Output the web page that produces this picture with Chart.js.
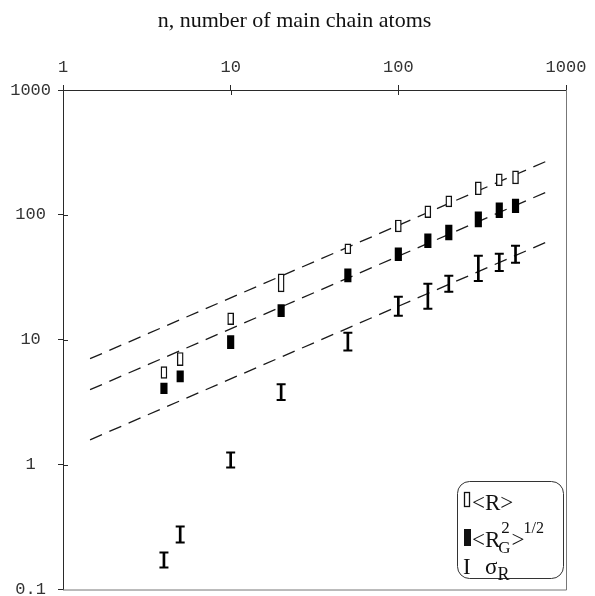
<!DOCTYPE html>
<html><head><meta charset="utf-8">
<script src="https://cdn.jsdelivr.net/npm/chart.js@4/dist/chart.umd.min.js"></script>
<style>html,body{margin:0;padding:0;background:#fff;}</style>
</head><body>
<canvas id="c" width="595" height="596"></canvas>
<script>
// ---- data ----
const nValues   = [4, 5, 10, 20, 50, 100, 150, 200, 300, 400, 500];
const rLow      = [4.9, 6.2, 13.2, 24.2, 48.8, 73, 95, 116, 145, 171, 177];
const rHigh     = [6.1, 7.9, 16.4, 33.7, 58.6, 91, 118, 142, 184, 213, 225];
const rgLow     = [3.7, 4.6, 8.5, 15.3, 29.1, 42.9, 54.5, 63, 80, 95, 104];
const rgHigh    = [4.5, 5.65, 10.8, 19.1, 37, 54.5, 70.5, 83, 106, 125, 134];
const sigmaLow  = [0.15, 0.238, 0.95, 3.3, 8.2, 15.6, 17.7, 24.2, 29.6, 35.6, 41.3];
const sigmaHigh = [0.198, 0.32, 1.25, 4.4, 11.4, 22.1, 28.1, 32.5, 47, 48.8, 56.5];
const fitN      = [1.45, 770];
const fitR      = [7.05, 270];
const fitRg     = [3.98, 153];
const fitSigma  = [1.58, 60.8];
const xTicks    = [1, 10, 100, 1000];
const yTicks    = [0.1, 1, 10, 100, 1000];

const AX = '#2a2a2a';
const tickFont = {family: 'Liberation Mono', size: 17};

function barData(lo, hi) { return nValues.map((n, i) => ({x: n, y: [lo[i], hi[i]]})); }
function fitData(v) { return fitN.map((n, i) => ({x: n, y: v[i]})); }

const capPoints = [];
nValues.forEach((n, i) => { capPoints.push({x: n, y: sigmaLow[i]}); capPoints.push({x: n, y: sigmaHigh[i]}); });

const fitStyle = {type: 'line', borderColor: '#1a1a1a', borderWidth: 1.3, borderDash: [13, 8],
  pointRadius: 0, fill: false, order: 10, tension: 0};

const extras = {
  id: 'extras',
  afterDatasetsDraw(chart) {
    const {ctx, chartArea: a, scales: {x, y}} = chart;
    ctx.save();
    // inner half of crossing ticks
    ctx.strokeStyle = AX; ctx.lineWidth = 1;
    ctx.beginPath();
    xTicks.slice(1, -1).forEach(v => { const px = Math.round(x.getPixelForValue(v)) + 0.5; ctx.moveTo(px, a.top); ctx.lineTo(px, a.top + 5); });
    yTicks.slice(1, -1).forEach(v => { const py = Math.round(y.getPixelForValue(v)) + 0.5; ctx.moveTo(a.left, py); ctx.lineTo(a.left + 5, py); });
    ctx.stroke();
    // right and bottom frame
    ctx.strokeStyle = '#777';
    ctx.beginPath();
    ctx.moveTo(a.right + 0.5, a.top); ctx.lineTo(a.right + 0.5, a.bottom + 0.5);
    ctx.lineTo(a.left, a.bottom + 0.5);
    ctx.stroke();
    // legend
    ctx.strokeStyle = '#333'; ctx.lineWidth = 1;
    ctx.beginPath();
    ctx.roundRect(457.5, 481.5, 106, 97, 12);
    ctx.fillStyle = '#fff'; ctx.fill(); ctx.stroke();
    ctx.textBaseline = 'alphabetic'; ctx.textAlign = 'left';
    const tx = 472;
    // row 1
    ctx.fillStyle = '#fff'; ctx.fillRect(464, 492, 6, 15);
    ctx.strokeStyle = '#111'; ctx.lineWidth = 1.3;
    ctx.strokeRect(464.5, 492.5, 5, 14);
    ctx.fillStyle = '#111';
    ctx.font = '23px "Liberation Serif"';
    ctx.fillText('<R>', tx, 510);
    // row 2
    ctx.fillRect(464, 529, 7, 17);
    ctx.font = '23px "Liberation Serif"';
    ctx.fillText('<R', tx, 547);
    const w = ctx.measureText('<R').width;
    ctx.font = '17px "Liberation Serif"';
    ctx.fillText('G', tx + w - 2, 553);
    ctx.fillText('2', tx + w + 1, 533);
    const gw = ctx.measureText('G').width;
    ctx.font = '23px "Liberation Serif"';
    ctx.fillText('>', tx + w + gw - 1, 547);
    const gtw = ctx.measureText('>').width;
    ctx.font = '16px "Liberation Serif"';
    ctx.fillText('1/2', tx + w + gw + gtw - 2, 533);
    // row 3
    ctx.font = '23px "Liberation Serif"';
    ctx.fillText('I', 463, 574);
    ctx.fillText('σ', 485, 574);
    const sw = ctx.measureText('σ').width;
    ctx.font = '18px "Liberation Serif"';
    ctx.fillText('R', 485 + sw, 580);
    ctx.restore();
  }
};

new Chart(document.getElementById('c'), {
  type: 'bar',
  data: {
    datasets: [
      {type: 'bar', label: '<R>', data: barData(rLow, rHigh), backgroundColor: '#fff', borderColor: '#111',
        borderWidth: 1.4, borderSkipped: false, barThickness: 6, maxBarThickness: 6, grouped: false, order: 1},
      {type: 'bar', label: '<Rg²>^1/2', data: barData(rgLow, rgHigh), backgroundColor: '#000', borderColor: '#000',
        borderWidth: 0, barThickness: 6.5, maxBarThickness: 6.5, grouped: false, order: 1},
      {type: 'bar', label: 'σR', data: barData(sigmaLow, sigmaHigh), backgroundColor: '#000',
        borderWidth: 0, barThickness: 2, maxBarThickness: 2, grouped: false, order: 1},
      {type: 'scatter', label: 'σR caps', data: capPoints, pointStyle: 'line', pointRadius: 4.5, pointBorderWidth: 2,
        borderColor: '#000', backgroundColor: '#000', showLine: false, order: 0},
      Object.assign({label: 'fit R', data: fitData(fitR)}, fitStyle),
      Object.assign({label: 'fit Rg', data: fitData(fitRg)}, fitStyle),
      Object.assign({label: 'fit sigma', data: fitData(fitSigma)}, fitStyle)
    ]
  },
  options: {
    responsive: false, animation: false, devicePixelRatio: 1,
    layout: {padding: {left: 0, right: 6, top: 0, bottom: 6}},
    plugins: {
      legend: {display: false}, tooltip: {enabled: false},
      title: {display: true, text: 'n, number of main chain atoms', color: '#111',
        font: {family: 'Liberation Serif', size: 22, weight: 'normal'}, padding: {top: 8, bottom: 0}}
    },
    scales: {
      x: {type: 'logarithmic', position: 'top', min: 1, max: 1000, offset: false,
        grid: {drawOnChartArea: false, drawTicks: true, tickLength: 5, color: AX, offset: false},
        border: {display: true, color: AX, width: 1},
        afterBuildTicks: s => { s.ticks = xTicks.map(v => ({value: v})); },
        afterFit: s => { s.height = 55.6; s.paddingLeft = 0; s.paddingRight = 0; },
        ticks: {callback: v => String(v), autoSkip: false, maxRotation: 0, font: tickFont, color: '#333', padding: 7}
      },
      y: {type: 'logarithmic', position: 'left', min: 0.1, max: 1000,
        grid: {drawOnChartArea: false, drawTicks: true, tickLength: 5, color: AX},
        border: {display: true, color: AX, width: 1},
        afterBuildTicks: s => { s.ticks = yTicks.map(v => ({value: v})); },
        afterFit: s => { s.width = 63; s.paddingTop = 0; s.paddingBottom = 0; },
        ticks: {callback: v => String(v), autoSkip: false, font: tickFont, color: '#333', padding: 7, crossAlign: 'center'}
      },
      yRight: {type: 'logarithmic', position: 'right', min: 0.1, max: 1000,
        grid: {display: false, drawOnChartArea: false, drawTicks: false},
        border: {display: false},
        ticks: {display: false},
        afterFit: s => { s.width = 23; s.paddingTop = 0; s.paddingBottom = 0; }
      }
    }
  },
  plugins: [extras]
});
</script>
</body></html>
